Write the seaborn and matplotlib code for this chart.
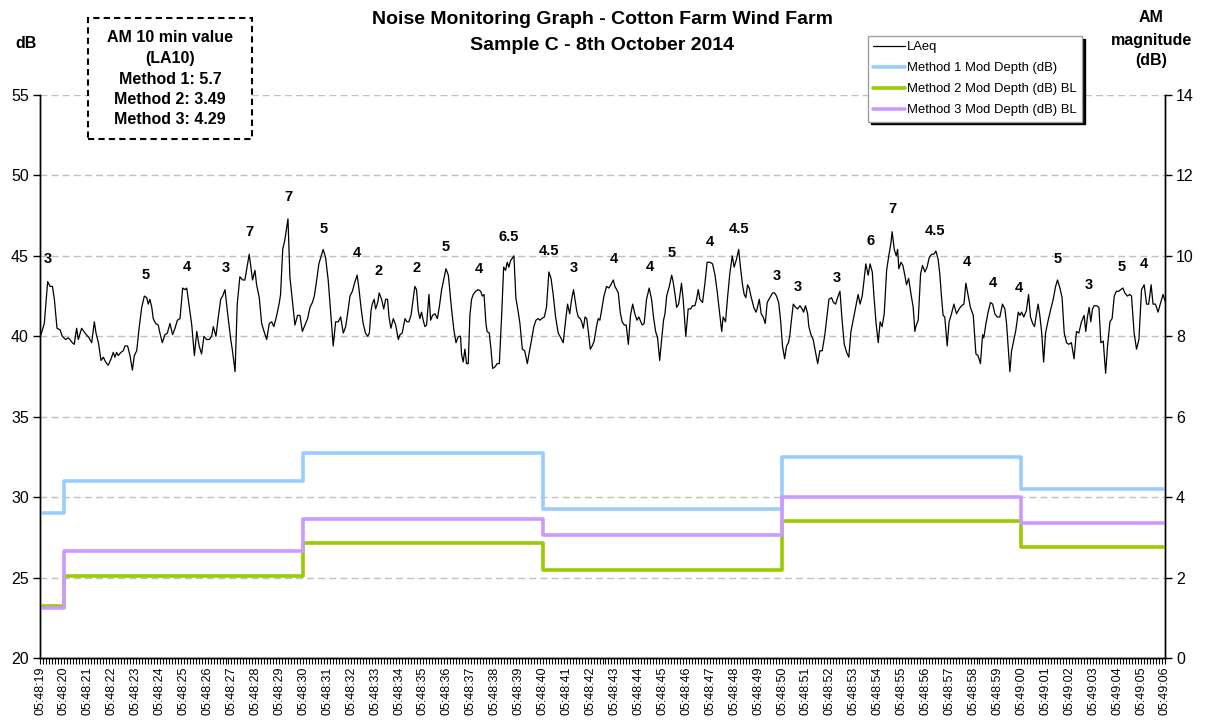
import matplotlib
matplotlib.use("Agg")
import matplotlib.pyplot as plt
import seaborn as sns
import pandas as pd
from matplotlib.patches import Rectangle
from matplotlib.ticker import MultipleLocator

# ---------------- data ----------------
# LAeq trace: seconds after 05:48:19 and level in dB
laeq_t = [
    0.00, 0.04, 0.18, 0.32, 0.42, 0.52, 0.60, 0.71, 0.84, 0.93, 1.07, 1.18, 1.25, 1.35, 1.43, 1.53, 1.60, 1.74, 1.88, 2.05,
    2.16, 2.27, 2.34, 2.44, 2.55, 2.65, 2.74, 2.85, 2.97, 3.06, 3.13, 3.20, 3.27, 3.38, 3.48, 3.55, 3.66, 3.76, 3.86, 3.94,
    4.04, 4.14, 4.25, 4.36, 4.46, 4.52, 4.59, 4.67, 4.73, 4.83, 4.94, 5.01, 5.11, 5.22, 5.32, 5.43, 5.54, 5.64, 5.74, 5.85,
    5.96, 6.06, 6.13, 6.24, 6.34, 6.45, 6.55, 6.65, 6.75, 6.85, 6.96, 7.07, 7.17, 7.24, 7.35, 7.45, 7.55, 7.63, 7.73, 7.84,
    7.97, 8.05, 8.15, 8.24, 8.35, 8.47, 8.56, 8.66, 8.74, 8.80, 8.88, 8.98, 9.05, 9.16, 9.26, 9.36, 9.47, 9.58, 9.68, 9.77,
    9.89, 10.00, 10.05, 10.14, 10.23, 10.36, 10.44, 10.54, 10.65, 10.76, 10.86, 10.96, 11.07, 11.18, 11.28, 11.38, 11.46, 11.56, 11.65, 11.77,
    11.83, 11.93, 12.04, 12.16, 12.25, 12.35, 12.46, 12.56, 12.67, 12.77, 12.85, 12.95, 13.05, 13.16, 13.25, 13.33, 13.41, 13.50, 13.60, 13.69,
    13.76, 13.83, 13.88, 13.96, 14.02, 14.11, 14.17, 14.27, 14.36, 14.44, 14.52, 14.58, 14.66, 14.76, 14.86, 14.97, 15.04, 15.13, 15.25, 15.33,
    15.41, 15.50, 15.59, 15.66, 15.73, 15.80, 15.87, 15.94, 16.01, 16.08, 16.15, 16.25, 16.32, 16.40, 16.50, 16.60, 16.68, 16.78, 16.89, 16.96,
    17.06, 17.13, 17.20, 17.29, 17.38, 17.45, 17.51, 17.57, 17.61, 17.68, 17.75, 17.82, 17.89, 17.96, 18.03, 18.10, 18.20, 18.31, 18.41, 18.48,
    18.55, 18.63, 18.68, 18.77, 18.84, 18.91, 19.01, 19.10, 19.19, 19.29, 19.37, 19.45, 19.52, 19.59, 19.66, 19.75, 19.80, 19.88, 19.98, 20.05,
    20.15, 20.25, 20.36, 20.44, 20.54, 20.63, 20.72, 20.81, 20.89, 20.96, 21.07, 21.16, 21.26, 21.35, 21.44, 21.54, 21.65, 21.76, 21.86, 21.96,
    22.04, 22.13, 22.21, 22.29, 22.35, 22.42, 22.49, 22.57, 22.63, 22.70, 22.77, 22.84, 22.90, 22.99, 23.07, 23.15, 23.25, 23.32, 23.39, 23.46,
    23.56, 23.67, 23.77, 23.85, 23.95, 24.02, 24.09, 24.16, 24.24, 24.32, 24.41, 24.49, 24.58, 24.67, 24.76, 24.85, 24.94, 25.02, 25.10, 25.16,
    25.24, 25.34, 25.45, 25.55, 25.63, 25.72, 25.80, 25.89, 25.97, 26.05, 26.11, 26.18, 26.29, 26.39, 26.45, 26.52, 26.60, 26.68, 26.73, 26.80,
    26.87, 26.98, 27.08, 27.18, 27.26, 27.36, 27.43, 27.50, 27.57, 27.68, 27.78, 27.87, 27.99, 28.10, 28.20, 28.29, 28.38, 28.48, 28.54, 28.64,
    28.73, 28.82, 28.92, 29.00, 29.10, 29.19, 29.27, 29.35, 29.42, 29.49, 29.56, 29.63, 29.70, 29.77, 29.82, 29.91, 29.96, 30.05, 30.13, 30.21,
    30.30, 30.38, 30.49, 30.61, 30.69, 30.77, 30.86, 30.94, 31.02, 31.11, 31.19, 31.27, 31.33, 31.37, 31.47, 31.57, 31.65, 31.75, 31.84, 31.90,
    31.98, 32.07, 32.12, 32.21, 32.30, 32.40, 32.49, 32.58, 32.68, 32.79, 32.86, 32.96, 33.07, 33.15, 33.24, 33.32, 33.42, 33.51, 33.60, 33.70,
    33.79, 33.88, 33.97, 34.07, 34.18, 34.26, 34.35, 34.42, 34.50, 34.60, 34.68, 34.77, 34.85, 34.93, 35.02, 35.10, 35.18, 35.27, 35.37, 35.46,
    35.55, 35.60, 35.69, 35.77, 35.83, 35.88, 35.97, 36.05, 36.13, 36.20, 36.29, 36.38, 36.48, 36.55, 36.59, 36.69, 36.79, 36.87, 36.97, 37.06,
    37.15, 37.25, 37.34, 37.43, 37.52, 37.59, 37.66, 37.73, 37.80, 37.90, 37.98, 38.08, 38.18, 38.29, 38.40, 38.50, 38.60, 38.68, 38.78, 38.87,
    38.99, 39.10, 39.19, 39.29, 39.38, 39.43, 39.52, 39.61, 39.71, 39.80, 39.89, 39.99, 40.10, 40.21, 40.31, 40.38, 40.46, 40.52, 40.59, 40.69,
    40.77, 40.87, 40.94, 41.01, 41.10, 41.21, 41.30, 41.38, 41.47, 41.55, 41.63, 41.70, 41.77, 41.85, 41.93, 42.01, 42.12, 42.23, 42.33, 42.43,
    42.51, 42.61, 42.70, 42.79, 42.89, 42.98, 43.09, 43.20, 43.30, 43.40, 43.51, 43.62, 43.69, 43.76, 43.83, 43.90, 43.97, 44.04, 44.14, 44.24,
    44.32, 44.42, 44.52, 44.60, 44.70, 44.79, 44.88, 44.97, 45.07, 45.15, 45.24, 45.32, 45.43, 45.53, 45.60, 45.71, 45.81, 45.91, 46.02, 46.13,
    46.23, 46.32, 46.42, 46.50, 46.60, 46.71, 46.82, 46.92, 47.00,
]
laeq_db = [
    40.5, 40.1, 40.8, 43.4, 43.1, 43.1, 42.3, 40.5, 40.4, 40.0, 39.8, 39.9, 39.8, 39.6, 39.5, 40.5, 39.8, 40.5, 40.2, 39.9,
    39.6, 40.9, 40.2, 39.6, 38.5, 38.7, 38.4, 38.2, 38.6, 39.0, 38.7, 39.0, 38.8, 39.0, 39.1, 39.4, 39.4, 38.8, 37.9, 38.8,
    39.1, 40.5, 41.8, 42.5, 42.4, 42.0, 42.3, 41.8, 41.1, 40.8, 40.7, 40.2, 39.6, 40.1, 40.2, 40.8, 40.1, 40.5, 41.0, 41.1,
    43.0, 42.9, 43.0, 41.8, 40.7, 38.8, 40.3, 39.4, 38.9, 40.0, 39.8, 39.8, 40.0, 40.6, 40.0, 41.2, 42.3, 42.5, 42.9, 41.4,
    39.8, 39.0, 37.8, 42.0, 43.7, 43.5, 43.5, 44.4, 45.1, 44.4, 43.5, 44.1, 43.2, 42.4, 40.8, 40.3, 39.8, 40.8, 40.9, 40.6,
    41.3, 42.1, 42.6, 45.4, 46.0, 47.3, 43.7, 42.3, 40.7, 41.3, 41.3, 40.3, 40.7, 41.1, 41.8, 42.1, 42.5, 43.5, 44.5, 45.1,
    45.4, 44.9, 43.5, 41.2, 39.4, 40.9, 40.9, 41.2, 40.2, 40.6, 41.4, 42.5, 42.8, 43.4, 43.8, 42.9, 41.8, 40.8, 40.2, 40.0,
    40.2, 41.6, 42.0, 42.3, 41.7, 42.1, 42.7, 42.3, 41.7, 42.3, 42.3, 41.2, 40.5, 41.1, 40.7, 39.8, 40.1, 40.2, 41.1, 40.9,
    40.9, 41.3, 42.3, 43.1, 42.9, 41.6, 41.1, 41.5, 41.0, 40.6, 40.7, 42.6, 41.0, 41.3, 41.4, 41.1, 41.8, 42.9, 43.7, 44.2,
    43.8, 42.7, 41.6, 40.4, 39.6, 39.9, 40.0, 40.0, 38.9, 38.4, 39.2, 38.3, 38.3, 41.3, 42.3, 42.6, 42.8, 42.9, 42.8, 42.5,
    42.6, 40.8, 40.3, 40.2, 39.2, 38.0, 38.1, 38.3, 38.3, 41.4, 44.3, 44.1, 44.6, 44.3, 44.7, 44.9, 45.0, 42.4, 41.5, 40.8,
    39.2, 39.1, 38.3, 39.0, 39.8, 40.6, 41.0, 41.1, 41.0, 41.1, 41.2, 41.8, 44.0, 43.6, 42.6, 41.2, 40.2, 39.9, 39.6, 41.0,
    42.0, 41.4, 42.3, 42.9, 42.3, 41.6, 41.2, 41.1, 40.9, 40.5, 41.2, 41.1, 40.4, 39.2, 39.4, 39.7, 40.6, 41.1, 41.0, 41.6,
    42.5, 43.1, 43.0, 43.2, 43.5, 43.1, 42.9, 42.7, 41.5, 40.9, 40.7, 40.7, 39.5, 41.3, 42.0, 41.4, 41.0, 41.2, 40.9, 40.7,
    40.8, 42.3, 43.0, 42.3, 41.2, 40.3, 39.9, 38.5, 39.8, 41.0, 41.4, 42.5, 43.1, 43.8, 43.4, 42.7, 41.8, 42.0, 42.5, 43.3,
    42.3, 40.0, 41.7, 41.7, 41.9, 41.9, 42.3, 42.9, 42.3, 42.1, 43.3, 44.6, 44.6, 44.5, 43.8, 42.8, 41.6, 40.3, 41.2, 40.9,
    42.5, 43.9, 45.0, 44.3, 44.8, 45.4, 44.2, 43.2, 42.6, 42.4, 43.2, 43.0, 42.5, 42.1, 41.8, 41.5, 41.7, 42.3, 41.4, 41.2,
    40.8, 42.1, 42.4, 42.7, 42.7, 42.5, 42.1, 41.0, 39.4, 38.6, 39.4, 39.6, 40.1, 40.7, 42.0, 41.8, 41.7, 41.9, 41.7, 41.5,
    41.9, 41.4, 40.6, 40.1, 39.8, 39.0, 38.3, 39.1, 39.1, 40.1, 41.0, 42.3, 42.4, 42.1, 42.0, 42.4, 42.8, 41.0, 39.5, 39.0,
    38.7, 40.3, 41.0, 41.8, 42.6, 42.0, 42.5, 43.4, 44.5, 43.8, 44.5, 44.0, 42.3, 40.8, 39.6, 40.9, 40.6, 41.4, 44.1, 45.0,
    45.8, 46.5, 45.4, 45.0, 45.4, 44.2, 44.6, 44.4, 43.8, 43.2, 43.6, 42.7, 41.8, 40.3, 40.6, 41.0, 43.9, 44.4, 44.0, 44.3,
    44.9, 45.1, 45.1, 45.3, 44.8, 43.9, 42.5, 41.3, 41.2, 39.4, 40.9, 41.4, 42.0, 41.4, 41.7, 41.9, 42.0, 43.3, 42.5, 41.8,
    41.3, 38.9, 38.8, 38.3, 40.1, 39.9, 40.8, 41.5, 42.1, 42.0, 41.4, 41.2, 41.2, 42.0, 41.7, 40.8, 39.1, 37.8, 39.1, 39.8,
    40.4, 41.5, 41.3, 41.5, 41.2, 41.6, 42.6, 41.2, 40.8, 40.6, 41.4, 42.0, 41.3, 40.2, 38.4, 40.2, 41.0, 41.7, 42.3, 43.1,
    43.5, 43.0, 42.4, 40.2, 39.6, 39.5, 39.6, 38.6, 40.3, 40.2, 40.9, 41.3, 40.3, 41.2, 41.8, 40.9, 41.7, 41.9, 41.9, 41.8,
    39.6, 39.7, 37.7, 39.4, 40.9, 41.1, 42.5, 42.8, 42.8, 42.9, 43.0, 42.7, 42.5, 42.6, 42.5, 40.2, 39.2, 39.8, 42.9, 43.2,
    42.0, 42.0, 43.2, 42.0, 42.0, 41.5, 42.1, 42.6, 42.2,
]

# Modulation depth steps (right axis, dB) - change times in seconds
step_t = [0, 1, 11, 21, 31, 41, 47]
method1 = [3.6, 4.4, 5.1, 3.7, 5.0, 4.2]
method2 = [1.3, 2.05, 2.85, 2.2, 3.4, 2.75]
method3 = [1.25, 2.65, 3.45, 3.05, 4.0, 3.35]

# AM magnitude labels over the peaks (time s, left-axis level dB, text)
am_t = [0.32, 4.43, 6.13, 7.76, 8.73, 10.36, 11.83, 13.25, 14.16, 15.73, 16.96, 18.35, 19.56, 21.27, 22.28, 23.98, 25.48,
        26.39, 27.99, 29.20, 30.77, 31.67, 33.28, 34.70, 35.60, 37.41, 38.71, 39.80, 40.91, 42.51, 43.82, 45.21, 46.13]
am_level = [44.79, 43.81, 44.33, 44.27, 46.47, 48.66, 46.65, 45.16, 44.06, 44.27, 45.53, 44.17, 46.16, 45.30, 44.27, 44.83, 44.33,
            45.16, 45.88, 46.65, 43.77, 43.05, 43.64, 45.94, 47.90, 46.57, 44.64, 43.30, 42.99, 44.79, 43.19, 44.33, 44.48]
am_text = ["3", "5", "4", "3", "7", "7", "5", "4", "2", "2", "5", "4", "6.5", "4.5", "3", "4", "4",
           "5", "4", "4.5", "3", "3", "3", "6", "7", "4.5", "4", "4", "4", "5", "3", "5", "4"]

tick_labels = [
    "05:48:19", "05:48:20", "05:48:21", "05:48:22", "05:48:23", "05:48:24", "05:48:25", "05:48:26",
    "05:48:27", "05:48:28", "05:48:29", "05:48:30", "05:48:31", "05:48:32", "05:48:33", "05:48:34",
    "05:48:35", "05:48:36", "05:48:37", "05:48:38", "05:48:39", "05:48:40", "05:48:41", "05:48:42",
    "05:48:43", "05:48:44", "05:48:45", "05:48:46", "05:48:47", "05:48:48", "05:48:49", "05:48:50",
    "05:48:51", "05:48:52", "05:48:53", "05:48:54", "05:48:55", "05:48:56", "05:48:57", "05:48:58",
    "05:48:59", "05:49:00", "05:49:01", "05:49:02", "05:49:03", "05:49:04", "05:49:05", "05:49:06",
]

box_lines = ["AM 10 min value", "(LA10)", "Method 1: 5.7", "Method 2: 3.49", "Method 3: 4.29"]

# ---------------- style ----------------
sns.set_style("ticks")
plt.rcParams['font.family'] = ['Liberation Sans', 'DejaVu Sans']
plt.rcParams.update({"text.color": "black", "axes.labelcolor": "black",
                     "xtick.color": "black", "ytick.color": "black",
                     "axes.edgecolor": "black"})

W, H = 1207, 722
fig = plt.figure(figsize=(W / 100, H / 100), dpi=100)
ax = fig.add_axes([40 / W, 1 - 658 / H, 1125 / W, 563 / H])
ax2 = ax.twinx()

laeq = pd.DataFrame({"t": laeq_t, "db": laeq_db})
sns.lineplot(data=laeq, x="t", y="db", ax=ax, color="black", lw=0.9,
             estimator=None, legend=False, label="LAeq")

colors = {"m1": "#99CCFF", "m2": "#99CC00", "m3": "#CC99FF"}
labels = {"m1": "Method 1 Mod Depth (dB)", "m2": "Method 2 Mod Depth (dB) BL",
          "m3": "Method 3 Mod Depth (dB) BL"}
for key, vals in (("m1", method1), ("m2", method2), ("m3", method3)):
    df = pd.DataFrame({"t": step_t, "v": vals + [vals[-1]]})
    sns.lineplot(data=df, x="t", y="v", ax=ax2, color=colors[key], lw=2.6,
                 drawstyle="steps-post", estimator=None, legend=False, label=labels[key])

# axes ranges / ticks
ax.set_xlim(0, 47)
ax.set_ylim(20, 55)
ax2.set_ylim(0, 14)
ax.set_yticks(range(20, 56, 5))
ax2.set_yticks(range(0, 15, 2))
ax.set_xticks(range(0, 48))
ax.set_xticklabels(tick_labels, rotation=90, fontsize=9, color="black")
ax.xaxis.set_minor_locator(MultipleLocator(0.125))
ax.tick_params(axis="x", which="both", direction="out", length=4, width=0.8, pad=2, colors="black")
ax.tick_params(axis="y", which="major", direction="out", length=5, width=1, labelsize=11.5, pad=3,
               colors="black")
ax2.tick_params(axis="y", which="major", direction="out", length=5, width=1, labelsize=11.5, pad=3,
                colors="black")
ax.set_xlabel("")
ax.set_ylabel("")
ax2.set_ylabel("")

ax.yaxis.grid(True, linestyle=(0, (5, 3)), color="#c0c0c0", lw=1)
ax.set_axisbelow(True)
for a in (ax, ax2):
    a.spines["top"].set_visible(False)
    for s in ("left", "right", "bottom"):
        a.spines[s].set_color("black")
        a.spines[s].set_linewidth(1)

# AM magnitude labels
for t, lv, s in zip(am_t, am_level, am_text):
    ax.text(t, lv, s, ha="center", va="center", fontsize=10.5, fontweight="bold", color="black")

# titles and axis captions
fig.text(602 / W, 1 - 20 / H, "Noise Monitoring Graph - Cotton Farm Wind Farm",
         ha="center", va="center", fontsize=14, fontweight="bold", color="black")
fig.text(602 / W, 1 - 45 / H, "Sample C - 8th October 2014",
         ha="center", va="center", fontsize=14, fontweight="bold", color="black")
fig.text(26 / W, 1 - 43 / H, "dB", ha="center", va="center", fontsize=11.5, fontweight="bold",
         color="black")
for yy, s in ((18, "AM"), (40, "magnitude"), (60, "(dB)")):
    fig.text(1151 / W, 1 - yy / H, s, ha="center", va="center", fontsize=11.5, fontweight="bold",
             color="black")

# dashed info box
fig.patches.append(Rectangle((88 / W, 1 - 139 / H), 164 / W, 121 / H, transform=fig.transFigure,
                             fill=True, facecolor="white", edgecolor="black", lw=1.5,
                             linestyle=(0, (3, 2)), zorder=5))
for yy, s in zip((37, 58, 79, 100, 120), box_lines):
    fig.text(170 / W, 1 - yy / H, s, ha="center", va="center", fontsize=11.5,
             fontweight="bold", zorder=6, color="black")

# legend
handles = ax.get_lines()[:1] + ax2.get_lines()[:3]
leg = fig.legend(handles, [h.get_label() for h in handles], loc="upper left",
                 bbox_to_anchor=(868 / W, 1 - 36 / H), frameon=True, fancybox=False,
                 shadow={"color": "black", "alpha": 1}, edgecolor="#a0a0a0", fontsize=9.4,
                 handlelength=2.4, handletextpad=0.2, labelspacing=0.68, borderpad=0.4,
                 borderaxespad=0)
leg.get_frame().set_linewidth(1)
for txt in leg.get_texts():
    txt.set_color("black")

fig.savefig("out.png", dpi=100)
